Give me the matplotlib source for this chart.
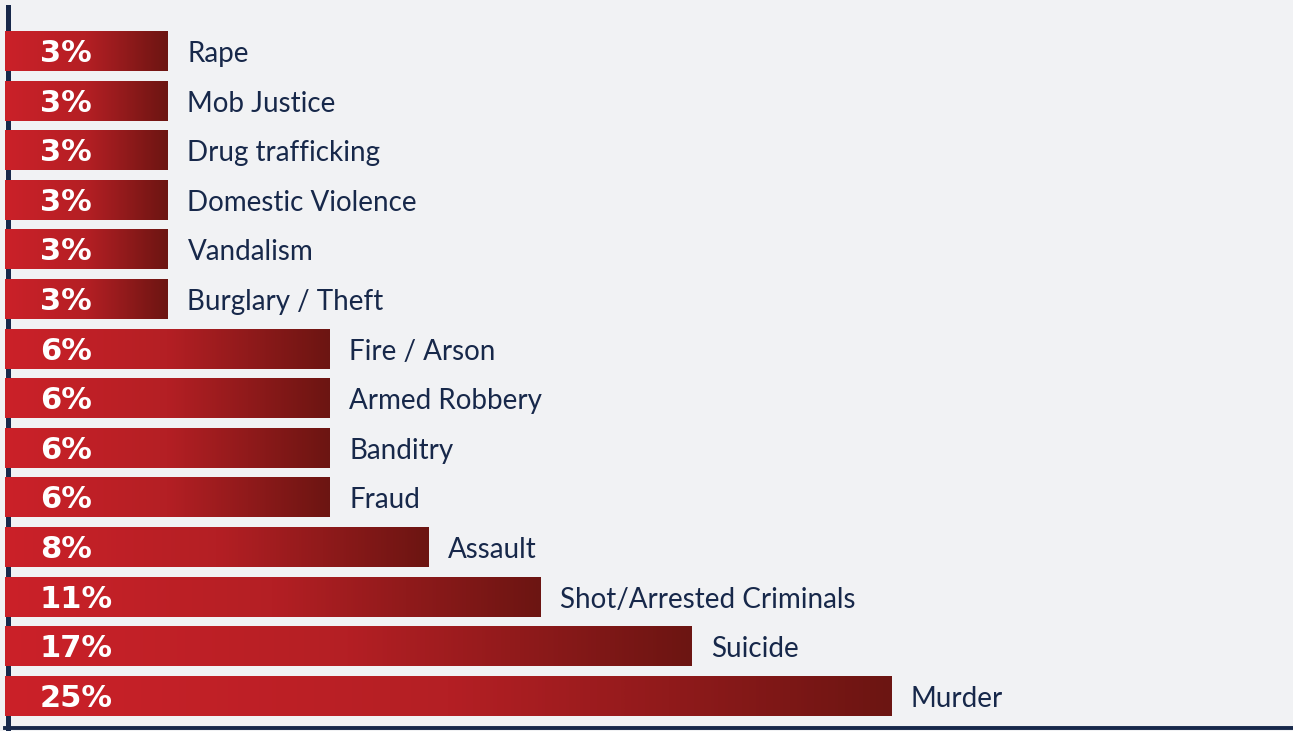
import numpy as np
import matplotlib
matplotlib.use("Agg")
import matplotlib.pyplot as plt
from matplotlib.colors import LinearSegmentedColormap

# ---- data (top row first) ----
categories = ["Rape", "Mob Justice", "Drug trafficking", "Domestic Violence",
              "Vandalism", "Burglary / Theft", "Fire / Arson", "Armed Robbery",
              "Banditry", "Fraud", "Assault", "Shot/Arrested Criminals",
              "Suicide", "Murder"]
percents = [3, 3, 3, 3, 3, 3, 6, 6, 6, 6, 8, 11, 17, 25]
# drawn bar lengths as they appear in the picture (not proportional to the %)
bar_lengths = [3, 3, 3, 3, 3, 3, 5.98, 5.98, 5.98, 5.98, 7.8, 9.85, 12.63, 16.31]

BG = "#f1f2f4"
NAVY = "#17284a"
grad = LinearSegmentedColormap.from_list("redgrad", ["#cb2129", "#b41f24", "#6c1512"])

fig = plt.figure(figsize=(12.93, 7.31), dpi=100, facecolor=BG)
W, H = 1293, 731
ax = fig.add_axes([5 / W, 3.5 / H, 1 - 5 / W, (731 - 7 - 3.5) / H])
ax.set_facecolor(BG)

y = np.arange(len(categories))
bars = ax.barh(y, bar_lengths, height=0.806, color="none", zorder=3)

g = np.linspace(0, 1, 256).reshape(1, -1)
for b in bars:
    x0, y0 = b.get_x(), b.get_y()
    ax.imshow(g, cmap=grad, aspect="auto", zorder=3,
              extent=[x0, x0 + b.get_width(), y0 + b.get_height(), y0],
              interpolation="bicubic")

for yi, w, p, cat in zip(y, bar_lengths, percents, categories):
    ax.annotate(f"{p}%", (0, yi), xytext=(25, -8), textcoords="offset points",
                ha="left", va="baseline", color="white", fontsize=22,
                fontweight="bold", family="DejaVu Sans", zorder=5)
    ax.annotate(cat, (w, yi), xytext=(14, -8), textcoords="offset points",
                ha="left", va="baseline", color=NAVY, fontsize=20,
                family="Lato", zorder=5)

ax.set_xlim(0, 1288 / 54.33)
ax.set_ylim(13.64, -0.887)
ax.set_xticks([])
ax.set_yticks([])
for s in ["top", "right"]:
    ax.spines[s].set_visible(False)
ax.spines["left"].set_color(NAVY)
ax.spines["left"].set_linewidth(3.6)
ax.spines["left"].set_position(("outward", -1.8))
ax.spines["left"].set_zorder(2)
ax.spines["bottom"].set_color(NAVY)
ax.spines["bottom"].set_linewidth(2.8)

fig.savefig("out.png", dpi=100, facecolor=BG)
